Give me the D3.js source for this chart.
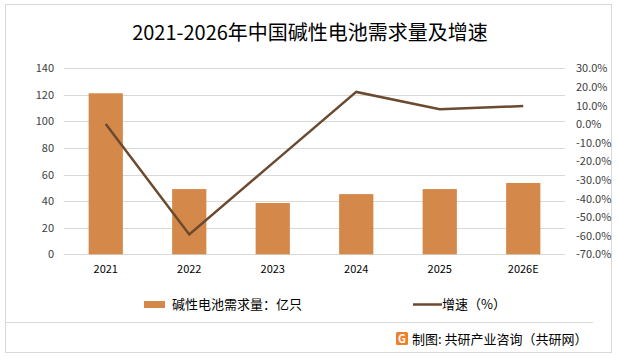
<!DOCTYPE html>
<html><head><meta charset="utf-8">
<script src="https://cdn.jsdelivr.net/npm/d3@7"></script>
<style>
html,body{margin:0;padding:0;background:#fff;}
text{font-family:"Microsoft YaHei","Noto Sans CJK SC","Noto Sans",sans-serif;}
</style></head>
<body><svg id="c" width="619" height="358"></svg>
<script>
const title = "2021-2026年中国碱性电池需求量及增速";
const categories = ["2021","2022","2023","2024","2025","2026E"];
const demand = [121.2, 49.1, 38.6, 45.3, 49.1, 53.7];
const growth = [0.0, -59.3, -21.0, 17.3, 8.0, 9.7];
const leftTicks = [0,20,40,60,80,100,120,140];
const rightTicks = [30,20,10,0,-10,-20,-30,-40,-50,-60,-70];
const barLegend = "碱性电池需求量：亿只";
const lineLegend = "增速（%）";
const source = "制图: 共研产业咨询（共研网）";

const svg = d3.select("#c");
const plot = {l:64, r:565, t:68.3, b:254.3};

svg.append("rect").attr("x",5.5).attr("y",4.5).attr("width",606).attr("height",348)
  .attr("fill","#fff").attr("stroke","#d9d9d9");

svg.append("text").attr("x",310).attr("y",40).attr("text-anchor","middle")
  .attr("font-size",20).attr("fill","#000").text(title);

const x = d3.scaleBand().domain(categories).range([plot.l, plot.r]).paddingInner(0.59).paddingOuter(0.295);
const y = d3.scaleLinear().domain([0,140]).range([plot.b, plot.t]);
const y2 = d3.scaleLinear().domain([-70,30]).range([plot.b, plot.t]);

// gridlines
svg.append("g").selectAll("line").data(leftTicks).join("line")
  .attr("x1",plot.l).attr("x2",plot.r)
  .attr("y1",d=>Math.round(y(d))+0.5).attr("y2",d=>Math.round(y(d))+0.5)
  .attr("stroke","#d9d9d9").attr("stroke-width",1);

// left axis
const ax = d3.axisLeft(y).tickValues(leftTicks).tickSize(0).tickPadding(10);
const gL = svg.append("g").attr("transform",`translate(${plot.l},0)`).call(ax);
gL.select(".domain").remove();
gL.selectAll("text").attr("font-size",11).attr("fill","#404040");

// right axis
const ax2 = d3.axisRight(y2).tickValues(rightTicks).tickSize(0).tickPadding(11).tickFormat(d=>d.toFixed(1)+"%");
const gR = svg.append("g").attr("transform",`translate(${plot.r},0)`).call(ax2);
gR.select(".domain").remove();
gR.selectAll("text").attr("font-size",11).attr("fill","#404040");

// x axis
const axB = d3.axisBottom(x).tickSize(0).tickPadding(11);
const gB = svg.append("g").attr("transform",`translate(0,${plot.b})`).call(axB);
gB.select(".domain").remove();
gB.selectAll("text").attr("font-size",11).attr("fill","#000");

// bars
svg.append("g").selectAll("rect").data(demand).join("rect")
  .attr("x",(d,i)=>x(categories[i])).attr("width",x.bandwidth())
  .attr("y",d=>y(d)).attr("height",d=>y(0)-y(d)).attr("fill","#D4894B");

// line
const line = d3.line().x((d,i)=>x(categories[i])+x.bandwidth()/2).y(d=>y2(d));
svg.append("path").datum(growth).attr("d",line).attr("fill","none")
  .attr("stroke","#6B4A2F").attr("stroke-width",2.5).attr("stroke-linejoin","miter");

// legend
svg.append("rect").attr("x",144).attr("y",301).attr("width",21).attr("height",7).attr("fill","#D4894B");
svg.append("text").attr("x",172).attr("y",309).attr("font-size",13).attr("fill","#000").text(barLegend);
svg.append("line").attr("x1",413).attr("x2",442).attr("y1",304.5).attr("y2",304.5).attr("stroke","#6B4A2F").attr("stroke-width",2.5);
svg.append("text").attr("x",442).attr("y",309).attr("font-size",13).attr("fill","#000").text(lineLegend);

// separator
svg.append("line").attr("x1",5).attr("x2",593).attr("y1",322.5).attr("y2",322.5).attr("stroke","#d9d9d9");

// source
const lg = svg.append("g").attr("transform","translate(396,332)");
lg.append("rect").attr("width",12).attr("height",13).attr("rx",1.5).attr("fill","#F07E2B");
lg.append("text").attr("x",6).attr("y",11).attr("text-anchor","middle").attr("font-size",11).attr("font-weight","bold").attr("fill","#fff").text("G");
svg.append("text").attr("x",412).attr("y",344).attr("font-size",13).attr("fill","#000").text(source);
</script></body></html>
